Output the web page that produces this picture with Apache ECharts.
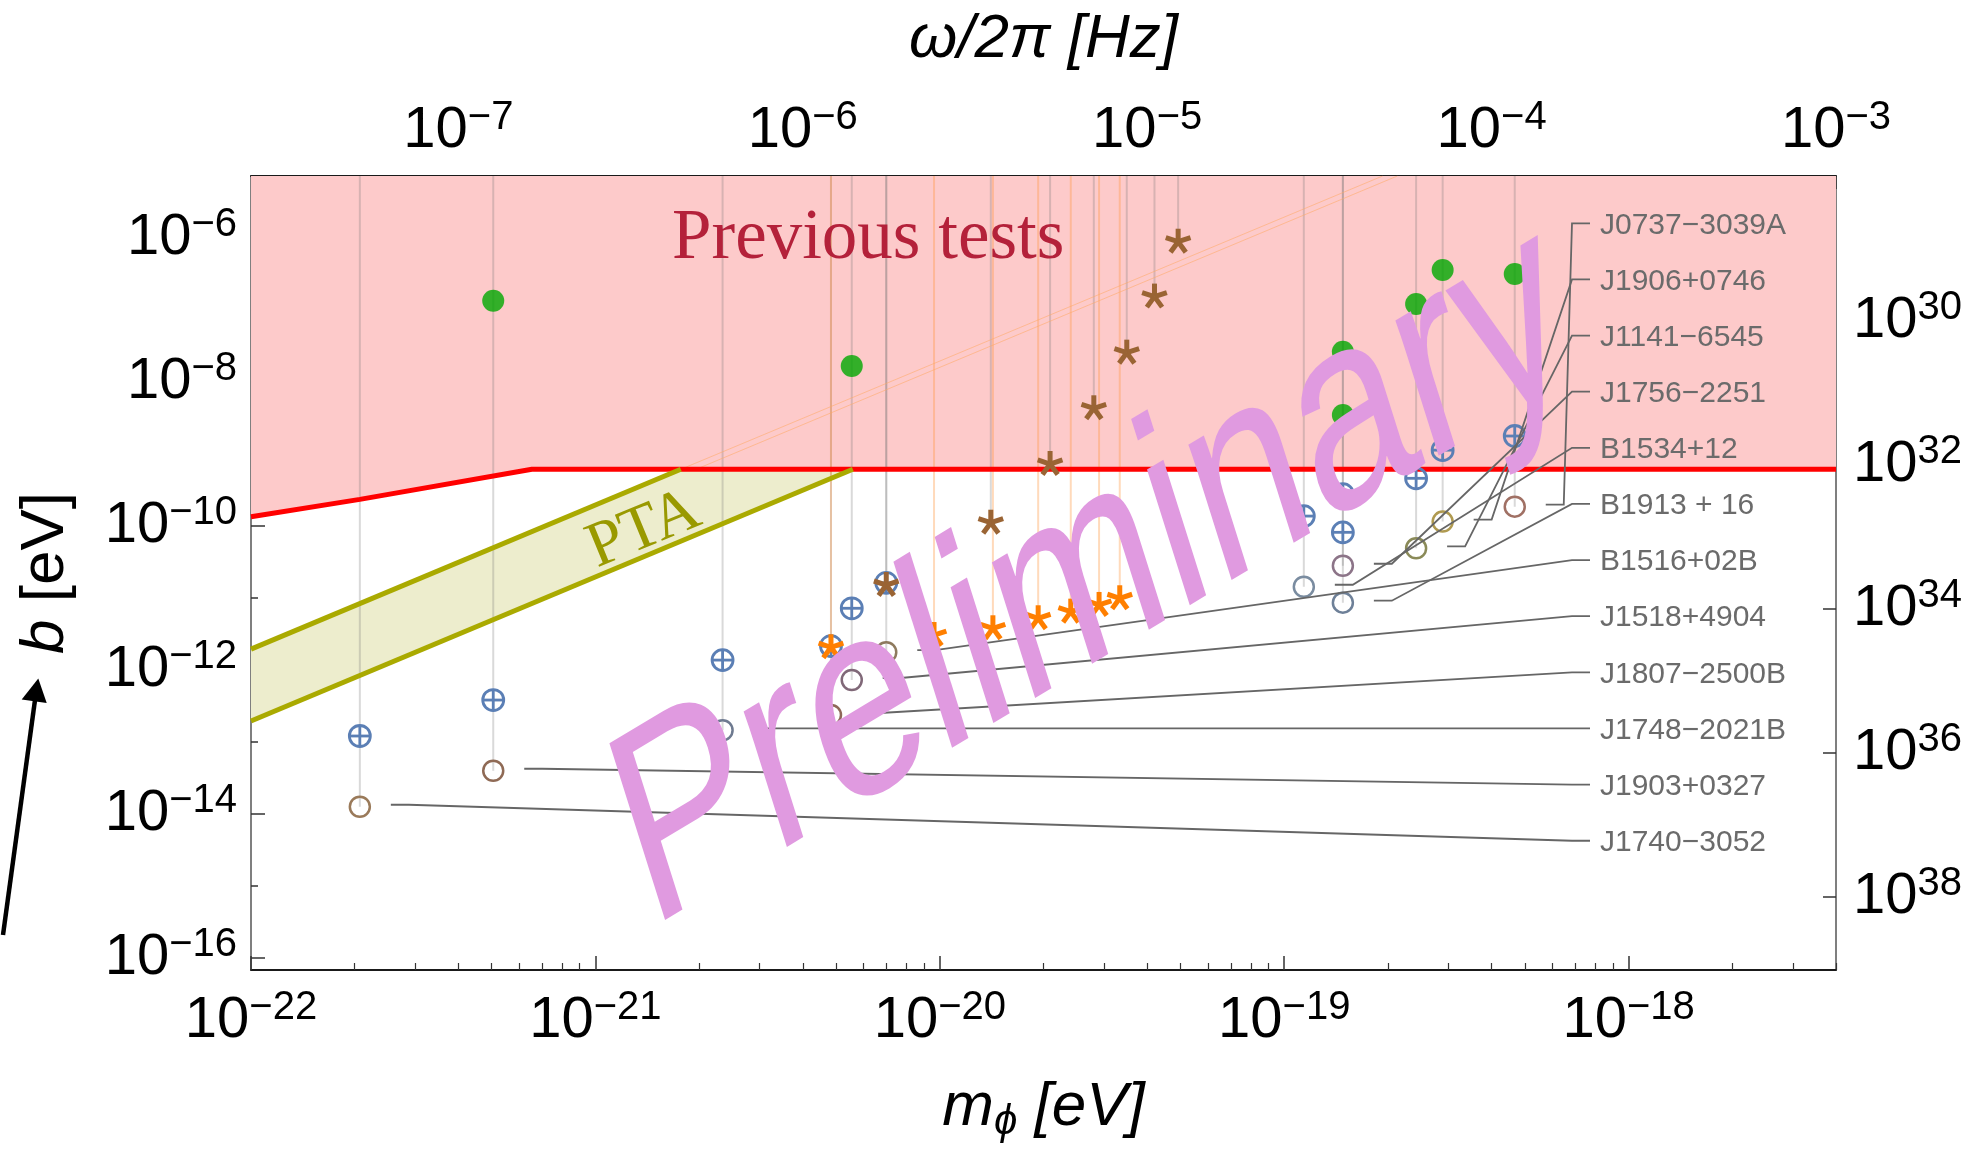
<!DOCTYPE html>
<html>
<head>
<meta charset="utf-8">
<script src="https://cdn.jsdelivr.net/npm/echarts@6/dist/echarts.min.js"></script>
<style>
html,body{margin:0;padding:0;background:#ffffff;}
#chart{width:1968px;height:1149px;}
</style>
</head>
<body>
<div id="chart"></div>
<script>
// ================= DATA =================
// axis ranges
const XMIN = 0.9999e-22, XMAX = 4.0004e-18;        // m_phi [eV]
const FMIN = 2.4998e-8, FMAX = 1.0001e-3;           // omega/2pi [Hz]
const YMIN = 6.75e-17, YMAX = 7.19e-6;              // b [eV]
const RMIN = 9.62e27, RMAX = 1.026e39;              // right axis (inverted)

// tick values / labels
const xMajorTicks = [1e-22, 1e-21, 1e-20, 1e-19, 1e-18];
const freqTicks = [1e-7, 1e-6, 1e-5, 1e-4, 1e-3];
const yMajorTicks = [1e-16, 1e-14, 1e-12, 1e-10, 1e-8, 1e-6];
const yMinorTicks = [1e-15, 1e-13, 1e-11, 1e-9, 1e-7];
const rightTicks = [1e30, 1e32, 1e34, 1e36, 1e38];

// pulsars (label order top -> bottom)
const pulsarNames = ['J0737\u22123039A', 'J1906+0746', 'J1141\u22126545', 'J1756\u22122251', 'B1534+12', 'B1913 + 16',
  'B1516+02B', 'J1518+4904', 'J1807\u22122500B', 'J1748\u22122021B', 'J1903+0327', 'J1740\u22123052'];
const pulsarMass = [4.67e-19, 2.884e-19, 2.415e-19, 1.48e-19, 1.14e-19, 1.48e-19,
  6.99e-21, 5.55e-21, 4.83e-21, 2.34e-21, 5.05e-22, 2.07e-22];
const boundOpen = [1.84e-10, 1.14e-10, 4.85e-11, 2.78e-11, 1.42e-11, 8.53e-12,
  1.75e-12, 7.19e-13, 2.35e-13, 1.44e-13, 3.95e-14, 1.25e-14];
const boundCross = [1.76e-9, 1.12e-9, 4.55e-10, 2.75e-10, 1.36e-10, 8.09e-11,
  1.61e-11, 7.13e-12, 2.13e-12, 1.36e-12, 3.79e-13, 1.20e-13];

// green filled dots
const greenMass = [5.05e-22, 5.55e-21, 1.48e-19, 1.48e-19, 2.415e-19, 2.884e-19, 4.67e-19];
const greenB = [1.33e-7, 1.65e-8, 2.61e-8, 3.44e-9, 1.20e-7, 3.56e-7, 3.13e-7];

// brown asterisks
const brownMass = [6.99e-21, 1.406e-20, 2.09e-20, 2.80e-20, 3.49e-20, 4.20e-20, 4.92e-20];
const brownB = [1.50e-11, 1.10e-10, 7.19e-10, 4.27e-9, 2.53e-8, 1.52e-7, 8.79e-7];

// orange asterisks
const orangeMass = [4.83e-21, 9.62e-21, 1.426e-20, 1.93e-20, 2.40e-20, 2.90e-20, 3.33e-20];
const orangeB = [2.05e-12, 3.03e-12, 3.76e-12, 5.18e-12, 6.40e-12, 7.93e-12, 9.82e-12];

// "Previous tests" boundary
const prevMass = [1e-22, 2.07e-22, 6.54e-22, 4.0004e-18];
const prevB = [1.33e-10, 2.32e-10, 6.07e-10, 6.07e-10];

// PTA band edges
const ptaUpperMass = [1e-22, 1.77e-21];
const ptaUpperB = [1.93e-12, 6.07e-10];
const ptaLowerMass = [1e-22, 5.59e-21];
const ptaLowerB = [1.94e-13, 6.07e-10];
// faint continuation lines above the boundary
const ptaExtMass = [1.77e-21, 1.93e-19];
const ptaExtB = [6.07e-10, 7.19e-6];
const ptaExt2Mass = [1.96e-21, 2.13e-19];
const ptaExt2B = [6.07e-10, 7.19e-6];

// ================= STYLE =================
const FONT = "'Liberation Sans', Arial, sans-serif";
const SERIF = "'Liberation Serif', 'Times New Roman', serif";
const openColors = ['#A07064', '#B09A50', '#8A8A58', '#8C7488', '#7A8CA0', '#6E8098',
  '#8E7A5E', '#806878', '#8E6858', '#6E7A90', '#8F6A55', '#9A7A5A'];

const pairs = (xs, ys) => xs.map((x, i) => [x, ys[i]]);
const xMinorTicks = [];
for (let e = -22; e <= -18; e++) {
  for (let k = 2; k <= 9; k++) {
    const v = k * Math.pow(10, e);
    if (v < XMAX) xMinorTicks.push(v);
  }
}

const supTxt = e => (e < 0 ? '\u2212' + (-e) : '' + e);
const powLabel = v => '{b|10}{s|' + supTxt(Math.round(Math.log10(v))) + '}';
const richPow = {
  b: { fontSize: 58, lineHeight: 66, fontFamily: FONT, color: '#000' },
  s: { fontSize: 40, lineHeight: 20, verticalAlign: 'top', fontFamily: FONT, color: '#000' }
};
const tickLine = { color: '#333', width: 1.5 };
const TITLE = 62;

function vline(color) {
  return function (params, api) {
    const p = api.coord([api.value(0), api.value(1)]);
    return { type: 'line', shape: { x1: p[0], y1: params.coordSys.y, x2: p[0], y2: p[1] },
      style: { stroke: color, lineWidth: 2 } };
  };
}
function asterisk(color) {
  return function (params, api) {
    const p = api.coord([api.value(0), api.value(1)]);
    const r = 13, ch = [];
    for (let k = 0; k < 5; k++) {
      const a = -Math.PI / 2 + k * 2 * Math.PI / 5;
      ch.push({ type: 'line', shape: { x1: p[0], y1: p[1], x2: p[0] + r * Math.cos(a), y2: p[1] + r * Math.sin(a) },
        style: { stroke: color, lineWidth: 5, lineCap: 'butt' } });
    }
    return { type: 'group', children: ch };
  };
}

const option = {
  animation: false,
  backgroundColor: '#ffffff',
  grid: { left: 251, right: 132, top: 176, bottom: 179, containLabel: false, outerBoundsMode: 'none' },
  xAxis: [
    {
      type: 'log', logBase: 10, position: 'bottom', min: XMIN, max: XMAX,
      axisLine: { show: true, onZero: false, lineStyle: { color: '#1a1a1a', width: 2 } },
      axisTick: { show: true, inside: true, length: 14, customValues: xMajorTicks, lineStyle: tickLine },
      axisLabel: { show: true, customValues: xMajorTicks, formatter: powLabel, rich: richPow, margin: 18 },
      splitLine: { show: false }, minorTick: { show: false },
      name: '{i|m}{sub|\u03D5}{n| [eV]}', nameLocation: 'middle', nameGap: 103,
      nameTextStyle: { rich: {
        i: { fontSize: TITLE, lineHeight: 70, fontStyle: 'italic', fontFamily: FONT, color: '#000' },
        sub: { fontSize: 42, lineHeight: 38, verticalAlign: 'bottom', fontStyle: 'italic', fontFamily: FONT, color: '#000' },
        n: { fontSize: TITLE, lineHeight: 70, fontStyle: 'italic', fontFamily: FONT, color: '#000' }
      } }
    },
    {
      type: 'log', logBase: 10, position: 'bottom', min: XMIN, max: XMAX,
      axisLine: { show: false, onZero: false },
      axisTick: { show: true, inside: true, length: 7, customValues: xMinorTicks, lineStyle: { color: '#333', width: 1.2 } },
      axisLabel: { show: false }, splitLine: { show: false }
    },
    {
      type: 'log', logBase: 10, position: 'top', min: FMIN, max: FMAX,
      axisLine: { show: true, onZero: false, lineStyle: { color: '#1a1a1a', width: 2 } },
      axisTick: { show: true, inside: true, length: 13, customValues: freqTicks, lineStyle: tickLine },
      axisLabel: { show: true, customValues: freqTicks, formatter: powLabel, rich: richPow, margin: 12 },
      splitLine: { show: false },
      name: '{i|\u03C9/2\u03C0 [Hz]}', nameLocation: 'middle', nameGap: 101,
      nameTextStyle: { rich: { i: { fontSize: TITLE, lineHeight: 70, fontStyle: 'italic', fontFamily: FONT, color: '#000' } } }
    }
  ],
  yAxis: [
    {
      type: 'log', logBase: 10, position: 'left', min: YMIN, max: YMAX,
      axisLine: { show: true, onZero: false, lineStyle: { color: '#555', width: 1.5 } },
      axisTick: { show: true, inside: true, length: 14, customValues: yMajorTicks, lineStyle: tickLine },
      axisLabel: { show: true, customValues: yMajorTicks, formatter: powLabel, rich: richPow, margin: 14 },
      splitLine: { show: false },
      name: '{i|b}{n| [eV]}', nameLocation: 'middle', nameGap: 170,
      nameTextStyle: { rich: {
        i: { fontSize: TITLE, lineHeight: 70, fontStyle: 'italic', fontFamily: FONT, color: '#000' },
        n: { fontSize: TITLE, lineHeight: 70, fontFamily: FONT, color: '#000' }
      } }
    },
    {
      type: 'log', logBase: 10, position: 'left', min: YMIN, max: YMAX,
      axisLine: { show: false, onZero: false },
      axisTick: { show: true, inside: true, length: 7, customValues: yMinorTicks, lineStyle: tickLine },
      axisLabel: { show: false }, splitLine: { show: false }
    },
    {
      type: 'log', logBase: 10, position: 'right', inverse: true, min: RMIN, max: RMAX,
      axisLine: { show: true, onZero: false, lineStyle: { color: '#555', width: 1.5 } },
      axisTick: { show: true, inside: true, length: 13, customValues: rightTicks, lineStyle: tickLine },
      axisLabel: { show: true, customValues: rightTicks, formatter: powLabel, rich: richPow, margin: 17 },
      splitLine: { show: false }
    }
  ],
  series: [
    { // pink "previous tests" region
      type: 'line', xAxisIndex: 0, yAxisIndex: 0, z: 1, silent: true, symbol: 'none',
      data: pairs(prevMass, prevB),
      lineStyle: { width: 0, opacity: 0 },
      areaStyle: { color: '#FDCACA', origin: 'end', opacity: 1 }
    },
    { // PTA band fill
      type: 'custom', xAxisIndex: 0, yAxisIndex: 0, z: 2, silent: true,
      data: [[ptaUpperMass[0], ptaUpperB[0]]],
      renderItem: function (params, api) {
        const pts = [];
        ptaUpperMass.forEach((m, i) => pts.push(api.coord([m, ptaUpperB[i]])));
        for (let i = ptaLowerMass.length - 1; i >= 0; i--) pts.push(api.coord([ptaLowerMass[i], ptaLowerB[i]]));
        return { type: 'polygon', shape: { points: pts }, style: { fill: '#EDEDCD' } };
      }
    },
    { type: 'line', xAxisIndex: 0, yAxisIndex: 0, z: 3, silent: true, symbol: 'none',
      data: pairs(ptaExtMass, ptaExtB), lineStyle: { color: 'rgba(255,170,100,0.55)', width: 1 } },
    { type: 'line', xAxisIndex: 0, yAxisIndex: 0, z: 3, silent: true, symbol: 'none',
      data: pairs(ptaExt2Mass, ptaExt2B), lineStyle: { color: 'rgba(255,170,100,0.55)', width: 1 } },
    { // vertical pulsar lines
      type: 'custom', xAxisIndex: 0, yAxisIndex: 0, z: 3, silent: true,
      data: pairs(pulsarMass, boundOpen), renderItem: vline('rgba(120,120,120,0.28)')
    },
    { type: 'custom', xAxisIndex: 0, yAxisIndex: 0, z: 3, silent: true,
      data: pairs(brownMass, brownB), renderItem: vline('rgba(120,120,120,0.28)') },
    { type: 'custom', xAxisIndex: 0, yAxisIndex: 0, z: 3, silent: true,
      data: pairs(orangeMass, orangeB), renderItem: vline('rgba(255,150,60,0.35)') },
    { // red boundary
      type: 'line', xAxisIndex: 0, yAxisIndex: 0, z: 4, silent: true, symbol: 'none',
      data: pairs(prevMass, prevB), lineStyle: { color: '#FF0000', width: 5 }
    },
    { type: 'line', xAxisIndex: 0, yAxisIndex: 0, z: 4, silent: true, symbol: 'none',
      data: pairs(ptaUpperMass, ptaUpperB), lineStyle: { color: '#AAAA00', width: 5 } },
    { type: 'line', xAxisIndex: 0, yAxisIndex: 0, z: 4, silent: true, symbol: 'none',
      data: pairs(ptaLowerMass, ptaLowerB), lineStyle: { color: '#AAAA00', width: 5 } },
    { // green dots
      type: 'scatter', xAxisIndex: 0, yAxisIndex: 0, z: 5, silent: true,
      symbol: 'circle', symbolSize: 22, itemStyle: { color: '#00A800' },
      data: pairs(greenMass, greenB)
    },
    { // crossed circles
      type: 'custom', xAxisIndex: 0, yAxisIndex: 0, z: 5, silent: true,
      data: pairs(pulsarMass, boundCross),
      renderItem: function (params, api) {
        const p = api.coord([api.value(0), api.value(1)]);
        const r = 10.5, st = { stroke: '#5B7FB5', lineWidth: 2.8, fill: null };
        return { type: 'group', children: [
          { type: 'circle', shape: { cx: p[0], cy: p[1], r: r }, style: st },
          { type: 'line', shape: { x1: p[0] - r, y1: p[1], x2: p[0] + r, y2: p[1] }, style: st },
          { type: 'line', shape: { x1: p[0], y1: p[1] - r, x2: p[0], y2: p[1] + r }, style: st }
        ] };
      }
    },
    { // open circles
      type: 'custom', xAxisIndex: 0, yAxisIndex: 0, z: 5, silent: true,
      data: pairs(pulsarMass, boundOpen),
      renderItem: function (params, api) {
        const p = api.coord([api.value(0), api.value(1)]);
        return { type: 'circle', shape: { cx: p[0], cy: p[1], r: 10 },
          style: { stroke: openColors[params.dataIndex], lineWidth: 2.5, fill: null } };
      }
    },
    { type: 'custom', xAxisIndex: 0, yAxisIndex: 0, z: 6, silent: true,
      data: pairs(brownMass, brownB), renderItem: asterisk('#9A6434') },
    { type: 'custom', xAxisIndex: 0, yAxisIndex: 0, z: 6, silent: true,
      data: pairs(orangeMass, orangeB), renderItem: asterisk('#FF7F00') },
    { // leader lines + pulsar names
      type: 'custom', xAxisIndex: 0, yAxisIndex: 0, z: 7, silent: true,
      data: pairs(pulsarMass, boundOpen),
      renderItem: function (params, api) {
        const i = params.dataIndex;
        const p = api.coord([api.value(0), api.value(1)]);
        const cs = params.coordSys;
        const sx = cs.x + cs.width - 264;
        const ly = cs.y + 47.3 + i * 56.13;
        return { type: 'group', children: [
          { type: 'polyline', shape: { points: [[p[0] + 31, p[1] - 2], [p[0] + 49, p[1] - 2], [sx, ly], [sx + 18, ly]] },
            style: { stroke: '#666', lineWidth: 1.8, fill: null } },
          { type: 'text', x: sx + 28, y: ly + 2,
            style: { text: pulsarNames[i], fontSize: 30, fontFamily: FONT, fill: '#6B6B6B', align: 'left', verticalAlign: 'middle' } }
        ] };
      }
    }
  ],
  graphic: [
    { type: 'text', x: 672, y: 239, z: 10, silent: true,
      style: { text: 'Previous tests', fontSize: 71, fontFamily: SERIF, fill: '#B4213A', align: 'left', verticalAlign: 'middle' } },
    { type: 'text', x: 644, y: 530, z: 10, silent: true, rotation: Math.atan(0.4125),
      style: { text: 'PTA', fontSize: 64, fontFamily: SERIF, fill: '#999900', align: 'center', verticalAlign: 'middle' } },
    { type: 'polyline', z: 10, silent: true, shape: { points: [[3, 935], [34.9, 700.8]] },
      style: { stroke: '#000', lineWidth: 4.5, fill: null } },
    { type: 'polygon', z: 10, silent: true, shape: { points: [[38.3, 678.5], [46.7, 703], [21.7, 699.5]] },
      style: { fill: '#000' } },
    { type: 'group', x: 1093, y: 579, scaleY: 1.38, z: 100, silent: true, children: [
      { type: 'text', z: 100, rotation: 23.5 * Math.PI / 180,
        style: { text: 'Preliminary', fontSize: 203, fontFamily: FONT, fill: '#E09AE0', align: 'center', verticalAlign: 'middle' } }
    ] }
  ]
};

const chart = echarts.init(document.getElementById('chart'), null, { renderer: 'canvas' });
chart.setOption(option);
</script>
</body>
</html>
